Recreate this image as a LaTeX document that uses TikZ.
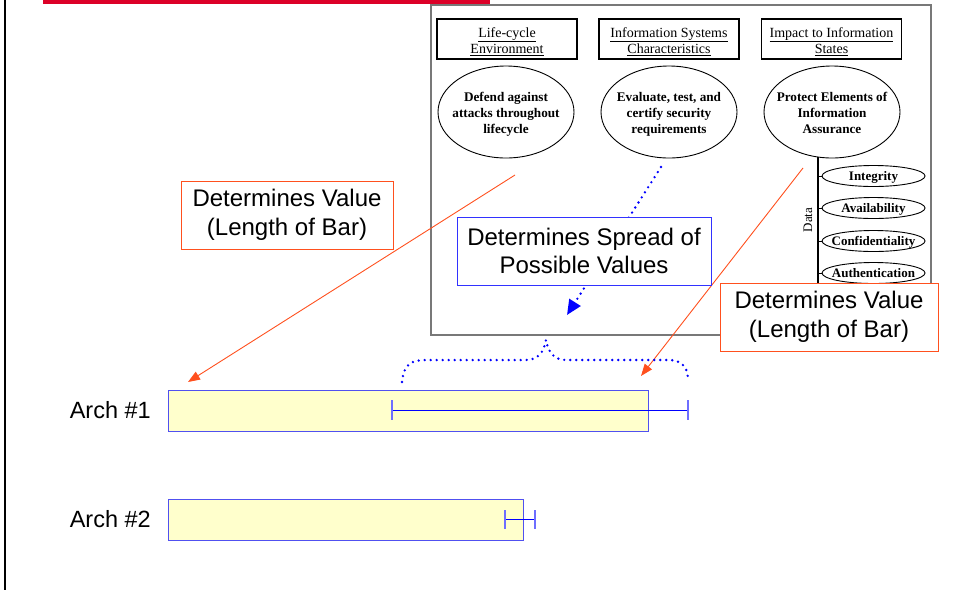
\documentclass[tikz,border=0pt]{standalone}
\usepackage{fontspec}
\setmainfont{Liberation Serif}
\newfontfamily\arialfont{Liberation Sans}
\usetikzlibrary{shapes.geometric,arrows.meta}

\definecolor{redbar}{RGB}{220,0,40}
\definecolor{orangeline}{RGB}{255,80,30}
\definecolor{boxblue}{RGB}{50,50,255}
\definecolor{dotblue}{RGB}{0,0,255}
\definecolor{barfill}{RGB}{255,255,204}
\definecolor{barline}{RGB}{80,80,240}
\definecolor{tickblue}{RGB}{110,110,255}
\definecolor{framegray}{RGB}{120,120,120}

% zero-width, slightly lowered text block so that a shape keeps its given size
\newcommand{\flatw}[1]{\makebox[0pt]{\raisebox{-2pt}[\height][\depth]{\begin{tabular}{@{}c@{}}#1\end{tabular}}}}
\newcommand{\hdrtext}[2]{\raisebox{-3pt}[\height][\depth]{\begin{tabular}{@{}c@{}}\underline{#1}\\\underline{#2}\end{tabular}}}

\begin{document}
\begin{tikzpicture}[x=1pt,y=-1pt,
  header/.style={draw=black, line width=1.1pt, minimum width=140pt, minimum height=40pt,
    inner sep=0pt, font=\fontsize{14}{16}\selectfont},
  bigoval/.style={ellipse, draw=black, line width=0.9pt, minimum width=136pt, minimum height=92pt,
    inner sep=0pt, font=\fontsize{13.2}{16}\selectfont\bfseries},
  smalloval/.style={ellipse, draw=black, line width=0.9pt, minimum width=103pt, minimum height=21pt,
    inner sep=0pt, font=\fontsize{13}{14}\selectfont\bfseries},
  valuebox/.style={draw=orangeline, fill=white, line width=0.9pt, inner sep=0pt, align=center,
    font=\arialfont\fontsize{24}{29}\selectfont},
  spreadbox/.style={draw=boxblue, fill=white, line width=0.9pt, inner sep=0pt, align=center,
    font=\arialfont\fontsize{24}{28}\selectfont},
  valuearrow/.style={draw=orangeline, line width=0.9pt, -{Triangle[length=12pt,width=9pt]}},
  dotline/.style={draw=dotblue, line width=2.6pt, line cap=round, dash pattern=on 0pt off 6pt},
  bar/.style={draw=barline, fill=barfill, line width=1.3pt, inner sep=0pt, anchor=north west},
  errline/.style={draw=dotblue, line width=1pt},
  errtick/.style={draw=tickblue, line width=1.8pt},
  archlabel/.style={anchor=east, inner sep=0pt, font=\arialfont\fontsize{23.5}{26}\selectfont}
]
\useasboundingbox (0,0) rectangle (953,590);

% page rules
\draw[line width=2pt] (5,0) -- (5,590);
\fill[redbar] (43,0) rectangle (490,3.5);

% framed model
\draw[framegray, line width=1.5pt] (431,5) rectangle (931,335);

\node[header] (h1) at (507,39) {\hdrtext{Life-cycle}{Environment}};
\node[header] (h2) at (669,39) {\hdrtext{Information Systems}{Characteristics}};
\node[header] (h3) at (831.5,39) {\hdrtext{Impact to Information}{States}};

\node[bigoval] (defend) at (506,112) {\flatw{Defend against\\attacks throughout\\lifecycle}};
\node[bigoval] (evaluate) at (669,112) {\flatw{Evaluate, test, and\\certify security\\requirements}};
\node[bigoval] (protect) at (832,112) {\flatw{Protect Elements of\\Information\\Assurance}};

% data elements
\coordinate (dtop) at (818,157);
\coordinate (dbot) at (818,292);
\draw[line width=1.1pt] (dtop) -- (dbot);
\node[rotate=90, inner sep=0pt, font=\fontsize{13}{14}\selectfont] (datalbl) at (808,220) {Data};
\node[smalloval] (integ) at (873.5,176) {\flatw{Integrity}};
\node[smalloval] (avail) at (873.5,208) {\flatw{Availability}};
\node[smalloval] (conf) at (873.5,241) {\flatw{Confidentiality}};
\node[smalloval] (auth) at (873.5,273) {\flatw{Authentication}};
\foreach \n in {integ,avail,conf,auth} \draw[line width=1pt] (\n.west) -- ++(-4,0);

% connectors
\coordinate (s1) at (515,175);
\coordinate (t1) at (188,382);
\coordinate (s2) at (803,168);
\coordinate (t2) at (641,376);
\coordinate (s3) at (661,167);
\coordinate (t3) at (567,315);
\draw[valuearrow] (s1) -- (t1);
\draw[valuearrow] (s2) -- (t2);
\draw[dotline, -{Triangle[length=15pt,width=13pt]}] (s3) -- (t3);

% labels
\node[valuebox, minimum width=212pt, minimum height=68pt] (val1) at (287,215) {Determines Value\\(Length of Bar)};
\node[spreadbox, minimum width=254pt, minimum height=68pt] (spread) at (584,251) {Determines Spread of\\Possible Values};
\node[valuebox, minimum width=218pt, minimum height=68pt] (val2) at (829,317) {Determines Value\\(Length of Bar)};

% spread brace
\coordinate (bl) at (402,382);
\coordinate (bp) at (546,340);
\coordinate (br) at (688,378);
\draw[dotline] (bl) .. controls (404,364) and (411,360) .. (426,360) -- (526,360)
  .. controls (538,360) and (544,352) .. (bp)
  .. controls (548,352) and (554,360) .. (566,360) -- (668,360)
  .. controls (681,360) and (687,366) .. (br);

% bars
\node[archlabel] (arch1) at (151,410) {Arch \#1};
\node[bar, minimum width=480pt, minimum height=41pt] (bar1) at (168,390) {};
\coordinate (e1l) at (392,410);
\coordinate (e1r) at (688,410);
\draw[errline] (e1l) -- (e1r);
\draw[errtick] (392,400) -- (392,420);
\draw[errtick] (688,400) -- (688,420);

\node[archlabel] (arch2) at (151,519) {Arch \#2};
\node[bar, minimum width=355pt, minimum height=41pt] (bar2) at (168,499) {};
\coordinate (e2l) at (505,519);
\coordinate (e2r) at (535,519);
\draw[errline] (e2l) -- (e2r);
\draw[errtick] (505,510) -- (505,529);
\draw[errtick] (535,510) -- (535,529);
\end{tikzpicture}
\end{document}
